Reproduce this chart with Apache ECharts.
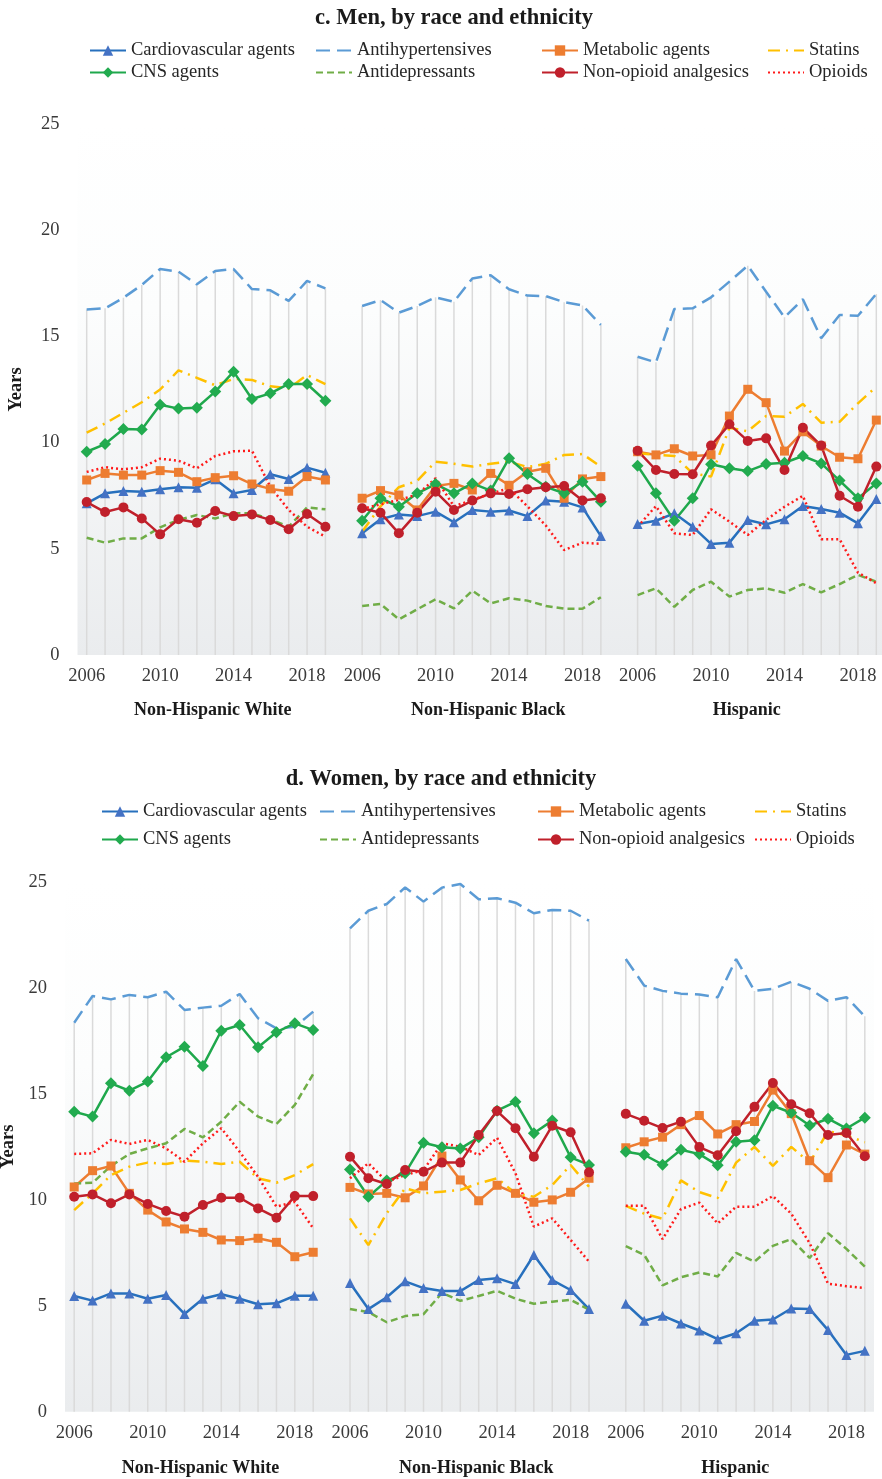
<!DOCTYPE html>
<html>
<head>
<meta charset="utf-8">
<title>Years of use by drug class, race and ethnicity</title>
<script src="https://cdn.jsdelivr.net/npm/echarts@6/dist/echarts.min.js"></script>
<style>
  html, body { margin: 0; padding: 0; background: #ffffff; }
  #chart { width: 882px; height: 1479px; }
</style>
</head>
<body>
<div id="chart"></div>
<script>
// ---- categories -------------------------------------------------------
const years = [2006, 2007, 2008, 2009, 2010, 2011, 2012, 2013, 2014, 2015, 2016, 2017, 2018, 2019];
const groups = ['Non-Hispanic White', 'Non-Hispanic Black', 'Hispanic'];
const tickYears = [2006, 2010, 2014, 2018];
const yTicks = [0, 5, 10, 15, 20, 25];
const panelTitles = ['c. Men, by race and ethnicity', 'd. Women, by race and ethnicity'];
const drugNames = ['Cardiovascular agents', 'Antihypertensives', 'Metabolic agents', 'Statins',
                   'CNS agents', 'Antidepressants', 'Non-opioid analgesics', 'Opioids'];

// ---- men: rows are White, Black, Hispanic (years 2006-2019) -------------
const menCardiovascular = [
  [7.14, 7.61, 7.72, 7.69, 7.80, 7.90, 7.88, 8.27, 7.61, 7.77, 8.51, 8.29, 8.82, 8.58],
  [5.73, 6.39, 6.62, 6.54, 6.75, 6.25, 6.83, 6.75, 6.80, 6.54, 7.27, 7.22, 6.95, 5.60],
  [6.17, 6.32, 6.67, 6.04, 5.23, 5.29, 6.36, 6.15, 6.39, 7.01, 6.87, 6.70, 6.20, 7.34]
];
const menAntihypertensives = [
  [16.27, 16.32, 16.82, 17.42, 18.17, 18.05, 17.45, 18.08, 18.17, 17.23, 17.17, 16.67, 17.61, 17.26],
  [16.43, 16.71, 16.12, 16.43, 16.84, 16.63, 17.73, 17.88, 17.22, 16.92, 16.90, 16.61, 16.46, 15.54],
  [14.04, 13.78, 16.29, 16.32, 16.84, 17.58, 18.33, 17.10, 15.90, 16.75, 14.91, 16.01, 15.97, 17.00]
];
const menMetabolic = [
  [8.24, 8.55, 8.47, 8.47, 8.68, 8.60, 8.16, 8.35, 8.44, 8.05, 7.82, 7.71, 8.40, 8.24],
  [7.38, 7.74, 7.53, 6.83, 7.96, 8.08, 7.77, 8.55, 7.99, 8.63, 8.79, 7.38, 8.29, 8.40],
  [9.57, 9.42, 9.71, 9.37, 9.42, 11.25, 12.51, 11.88, 9.60, 10.51, 9.84, 9.31, 9.24, 11.06]
];
const menStatins = [
  [10.47, 10.90, 11.40, 11.90, 12.50, 13.40, 13.05, 12.70, 13.00, 12.95, 12.65, 12.55, 13.18, 12.75],
  [5.80, 7.00, 7.90, 8.20, 9.10, 9.00, 8.87, 9.00, 9.10, 8.85, 9.00, 9.42, 9.46, 8.87],
  [9.50, 9.42, 9.37, 8.55, 8.40, 10.70, 10.53, 11.25, 11.22, 11.82, 10.94, 10.98, 11.85, 12.63]
];
const menCNS = [
  [9.57, 9.93, 10.64, 10.62, 11.78, 11.60, 11.64, 12.40, 13.34, 12.05, 12.32, 12.76, 12.76, 11.97],
  [6.32, 7.38, 6.98, 7.61, 8.05, 7.61, 8.08, 7.74, 9.26, 8.52, 7.92, 7.61, 8.16, 7.22],
  [8.91, 7.61, 6.32, 7.38, 8.98, 8.79, 8.66, 8.99, 9.05, 9.37, 9.02, 8.21, 7.38, 8.08]
];
const menAntidepressants = [
  [5.52, 5.29, 5.49, 5.49, 6.01, 6.36, 6.59, 6.43, 6.67, 6.67, 6.39, 6.04, 6.95, 6.86],
  [2.31, 2.40, 1.68, 2.15, 2.62, 2.20, 3.03, 2.43, 2.67, 2.56, 2.31, 2.18, 2.18, 2.72],
  [2.82, 3.14, 2.27, 3.06, 3.45, 2.75, 3.06, 3.14, 2.93, 3.34, 2.95, 3.34, 3.77, 3.45]
];
const menNonOpioid = [
  [7.20, 6.73, 6.95, 6.43, 5.68, 6.39, 6.23, 6.78, 6.54, 6.62, 6.36, 5.92, 6.64, 6.04],
  [6.91, 6.70, 5.73, 6.70, 7.69, 6.83, 7.27, 7.61, 7.58, 7.80, 7.90, 7.96, 7.27, 7.38],
  [9.62, 8.71, 8.52, 8.51, 9.86, 10.86, 10.08, 10.20, 8.71, 10.70, 9.86, 7.50, 6.98, 8.87]
];
const menOpioids = [
  [8.62, 8.84, 8.74, 8.84, 9.24, 9.15, 8.79, 9.37, 9.59, 9.62, 7.92, 6.83, 6.04, 5.57],
  [6.87, 7.10, 7.30, 7.55, 8.32, 7.00, 7.30, 7.60, 7.85, 7.00, 6.10, 4.94, 5.29, 5.23],
  [6.04, 7.01, 5.73, 5.65, 6.86, 6.28, 5.65, 6.36, 6.98, 7.49, 5.45, 5.45, 3.88, 3.38]
];

// ---- women: rows are White, Black, Hispanic (years 2006-2019) -----------
const womenCardiovascular = [
  [5.46, 5.24, 5.58, 5.58, 5.33, 5.50, 4.61, 5.33, 5.54, 5.33, 5.07, 5.11, 5.47, 5.47],
  [6.07, 4.84, 5.40, 6.15, 5.83, 5.69, 5.69, 6.21, 6.30, 6.02, 7.39, 6.21, 5.74, 4.84],
  [5.09, 4.29, 4.53, 4.16, 3.83, 3.42, 3.70, 4.29, 4.35, 4.87, 4.85, 3.85, 2.68, 2.87]
];
const womenAntihypertensives = [
  [18.35, 19.61, 19.45, 19.66, 19.55, 19.81, 18.95, 19.06, 19.15, 19.70, 18.56, 18.08, 18.16, 18.87],
  [22.80, 23.63, 23.95, 24.73, 24.06, 24.72, 24.89, 24.17, 24.22, 24.01, 23.51, 23.67, 23.63, 23.16],
  [21.35, 20.10, 19.85, 19.72, 19.68, 19.55, 21.35, 19.85, 19.95, 20.28, 19.95, 19.38, 19.55, 18.65]
];
const womenMetabolic = [
  [10.60, 11.37, 11.59, 10.30, 9.51, 8.95, 8.62, 8.46, 8.10, 8.07, 8.18, 7.99, 7.31, 7.52],
  [10.58, 10.27, 10.30, 10.09, 10.65, 12.06, 10.93, 9.95, 10.68, 10.30, 9.88, 9.99, 10.35, 11.01],
  [12.45, 12.73, 12.95, 13.54, 13.97, 13.10, 13.54, 13.69, 15.17, 14.06, 11.84, 11.04, 12.58, 12.15]
];
const womenStatins = [
  [9.51, 10.30, 11.16, 11.56, 11.75, 11.68, 11.84, 11.79, 11.68, 11.79, 11.01, 10.80, 11.16, 11.68],
  [9.12, 7.86, 9.36, 10.54, 10.30, 10.38, 10.46, 10.77, 11.01, 10.30, 10.14, 10.69, 11.64, 10.61],
  [9.71, 9.34, 9.10, 10.91, 10.36, 10.08, 11.75, 12.49, 11.60, 12.49, 11.75, 13.23, 13.04, 12.71]
];
const womenCNS = [
  [14.15, 13.92, 15.49, 15.14, 15.57, 16.72, 17.22, 16.31, 17.97, 18.24, 17.19, 17.90, 18.32, 18.00],
  [11.43, 10.14, 10.90, 11.25, 12.69, 12.47, 12.41, 12.94, 14.20, 14.62, 13.13, 13.73, 12.00, 11.64],
  [12.26, 12.12, 11.65, 12.36, 12.15, 11.62, 12.73, 12.80, 14.43, 14.10, 13.50, 13.82, 13.36, 13.87]
];
const womenAntidepressants = [
  [10.77, 10.80, 11.59, 12.16, 12.42, 12.66, 13.34, 12.94, 13.68, 14.62, 13.92, 13.57, 14.47, 15.93],
  [4.84, 4.70, 4.22, 4.51, 4.60, 5.60, 5.23, 5.46, 5.70, 5.33, 5.09, 5.19, 5.28, 4.81],
  [7.81, 7.40, 5.96, 6.34, 6.57, 6.38, 7.49, 7.08, 7.82, 8.14, 7.25, 8.42, 7.68, 6.84]
];
const womenNonOpioid = [
  [10.14, 10.25, 9.83, 10.25, 9.80, 9.47, 9.20, 9.75, 10.09, 10.09, 9.59, 9.15, 10.17, 10.17],
  [12.03, 11.01, 10.74, 11.40, 11.32, 11.75, 11.75, 13.05, 14.18, 13.37, 12.03, 13.49, 13.18, 11.29],
  [14.05, 13.72, 13.38, 13.68, 12.48, 12.10, 13.23, 14.38, 15.50, 14.50, 14.08, 13.05, 13.15, 12.05]
];
const womenOpioids = [
  [12.16, 12.19, 12.82, 12.63, 12.82, 12.42, 11.79, 12.66, 13.37, 12.26, 11.08, 9.67, 9.90, 8.65],
  [11.01, 11.72, 10.85, 11.16, 11.40, 12.66, 12.50, 12.11, 12.92, 11.25, 8.73, 9.12, 8.10, 7.08],
  [9.71, 9.71, 8.14, 9.56, 9.86, 8.88, 9.67, 9.67, 10.17, 9.34, 7.95, 6.04, 5.92, 5.83]
];

const panelData = [
  [menCardiovascular, menAntihypertensives, menMetabolic, menStatins,
   menCNS, menAntidepressants, menNonOpioid, menOpioids],
  [womenCardiovascular, womenAntihypertensives, womenMetabolic, womenStatins,
   womenCNS, womenAntidepressants, womenNonOpioid, womenOpioids]
];

// ---- styles -----------------------------------------------------------
const SERIF = '"Liberation Serif", "Times New Roman", serif';
const drugStyles = [
  { color: '#2770bd', marker: '#4472c4', symbol: 'triangle', size: 10, dash: 'solid' },
  { color: '#5b9bd5', dash: [14, 7] },
  { color: '#ed7d31', marker: '#ed7d31', symbol: 'rect', size: 9, dash: 'solid' },
  { color: '#ffc000', dash: [12, 6, 2, 6] },
  { color: '#1fa84c', marker: '#22ab4f', symbol: 'diamond', size: 12, dash: 'solid' },
  { color: '#70ad47', dash: [7, 4] },
  { color: '#c0202b', marker: '#c0202b', symbol: 'circle', size: 10, dash: 'solid' },
  { color: '#ff1a1a', dash: [2, 3] }
];

// plot-area geometry of the two panels
const grids = [
  { left: 77.5, top: 124, width: 808, height: 531 },
  { left: 65, top: 881.7, width: 809, height: 530 }
];
const yNameGap = [52, 40];
const legendCols = [[89, 315, 541, 767], [101, 319, 537, 754]];
const legendRows = [[41, 63], [802, 830]];
const titlePos = [[454, 18], [441, 779]];
const groupLabelY = [710, 1468];
const groupLabelOffset = [6.87, 6.87, 5.95];   // label centre, in year steps from 2006

// ---- helpers ----------------------------------------------------------
const categories = [];
groups.forEach((g, gi) => {
  if (gi > 0) categories.push('gap' + gi);
  years.forEach(y => categories.push(g + '|' + y));
});
function joinGroups(rows) {
  return [...rows[0], null, ...rows[1], null, ...rows[2]];
}
function groupStart(gi) { return gi * (years.length + 1); }

const bgGradient = () => new echarts.graphic.LinearGradient(0, 0, 0, 1, [
  { offset: 0, color: '#ffffff' },
  { offset: 0.35, color: '#fcfdfd' },
  { offset: 1, color: '#eaecee' }
]);

const option = {
  animation: false,
  backgroundColor: '#ffffff',
  grid: grids.map(g => ({
    left: g.left, top: g.top, width: g.width, height: g.height,
    show: true, borderWidth: 0, backgroundColor: bgGradient(),
    containLabel: false, outerBoundsMode: 'none'
  })),
  xAxis: grids.map((g, p) => ({
    type: 'category', gridIndex: p, data: categories,
    axisLine: { show: false }, axisTick: { show: false }, splitLine: { show: false },
    axisLabel: {
      interval: 0, margin: 12, fontFamily: SERIF, fontSize: 18.5, color: '#3a3a3a',
      formatter: v => {
        const parts = String(v).split('|');
        return parts.length === 2 && tickYears.includes(+parts[1]) ? parts[1] : '';
      }
    }
  })),
  yAxis: grids.map((g, p) => ({
    type: 'value', gridIndex: p, min: yTicks[0], max: yTicks[yTicks.length - 1], interval: 5,
    name: 'Years', nameLocation: 'middle', nameGap: yNameGap[p],
    nameTextStyle: { fontFamily: SERIF, fontSize: 18.5, fontWeight: 'bold', color: '#1a1a1a' },
    axisLine: { show: false }, axisTick: { show: false }, splitLine: { show: false },
    axisLabel: { margin: 18, fontFamily: SERIF, fontSize: 18.5, color: '#3a3a3a' }
  })),
  legend: [],
  series: []
};

panelData.forEach((drugs, p) => {
  // drop lines from the axis up to the highest value of each year
  const tops = categories.map((c, i) => {
    const vals = drugs.map(rows => joinGroups(rows)[i]).filter(v => v !== null);
    return vals.length ? Math.max(...vals) : null;
  });
  option.series.push({
    type: 'bar', name: 'drop-' + p, xAxisIndex: p, yAxisIndex: p, data: tops,
    barWidth: 1.5, silent: true, z: 1,
    itemStyle: { color: '#dadada' }, emphasis: { disabled: true }
  });

  drugs.forEach((rows, d) => {
    const st = drugStyles[d];
    option.series.push({
      type: 'line', name: drugNames[d], xAxisIndex: p, yAxisIndex: p,
      data: joinGroups(rows),
      symbol: st.symbol || 'none', symbolSize: st.size || 0, showSymbol: !!st.symbol,
      connectNulls: false, z: 3,
      lineStyle: { color: st.color, width: 2.5, type: st.dash },
      itemStyle: { color: st.marker || st.color },
      emphasis: { disabled: true }
    });
  });

  drugNames.forEach((name, i) => {
    const lineOnly = !drugStyles[i].symbol;
    option.legend.push({
      data: [name], selectedMode: false,
      left: legendCols[p][i % 4], top: legendRows[p][Math.floor(i / 4)],
      itemWidth: 36, itemHeight: 13, padding: 0,
      itemStyle: lineOnly ? { opacity: 0 } : {},
      textStyle: { fontFamily: SERIF, fontSize: 18.5, color: '#262626' }
    });
  });
});

const chart = echarts.init(document.getElementById('chart'), null, { renderer: 'canvas' });
chart.setOption(option);

// titles and group captions
const graphics = [];
panelTitles.forEach((t, p) => {
  graphics.push({
    type: 'text', x: titlePos[p][0], y: titlePos[p][1], silent: true,
    style: {
      text: t, fill: '#1a1a1a', align: 'center', verticalAlign: 'middle',
      textAlign: 'center', textVerticalAlign: 'middle',
      font: 'bold 22.5px ' + SERIF
    }
  });
  groups.forEach((g, gi) => {
    const i0 = groupStart(gi);
    const x0 = chart.convertToPixel({ xAxisIndex: p }, categories[i0]);
    const x1 = chart.convertToPixel({ xAxisIndex: p }, categories[i0 + 1]);
    graphics.push({
      type: 'text', x: x0 + (x1 - x0) * groupLabelOffset[gi], y: groupLabelY[p], silent: true,
      style: {
        text: g, fill: '#1a1a1a', align: 'center', verticalAlign: 'middle',
        textAlign: 'center', textVerticalAlign: 'middle',
        font: 'bold 18px ' + SERIF
      }
    });
  });
});
chart.setOption({ graphic: graphics });
</script>
</body>
</html>
